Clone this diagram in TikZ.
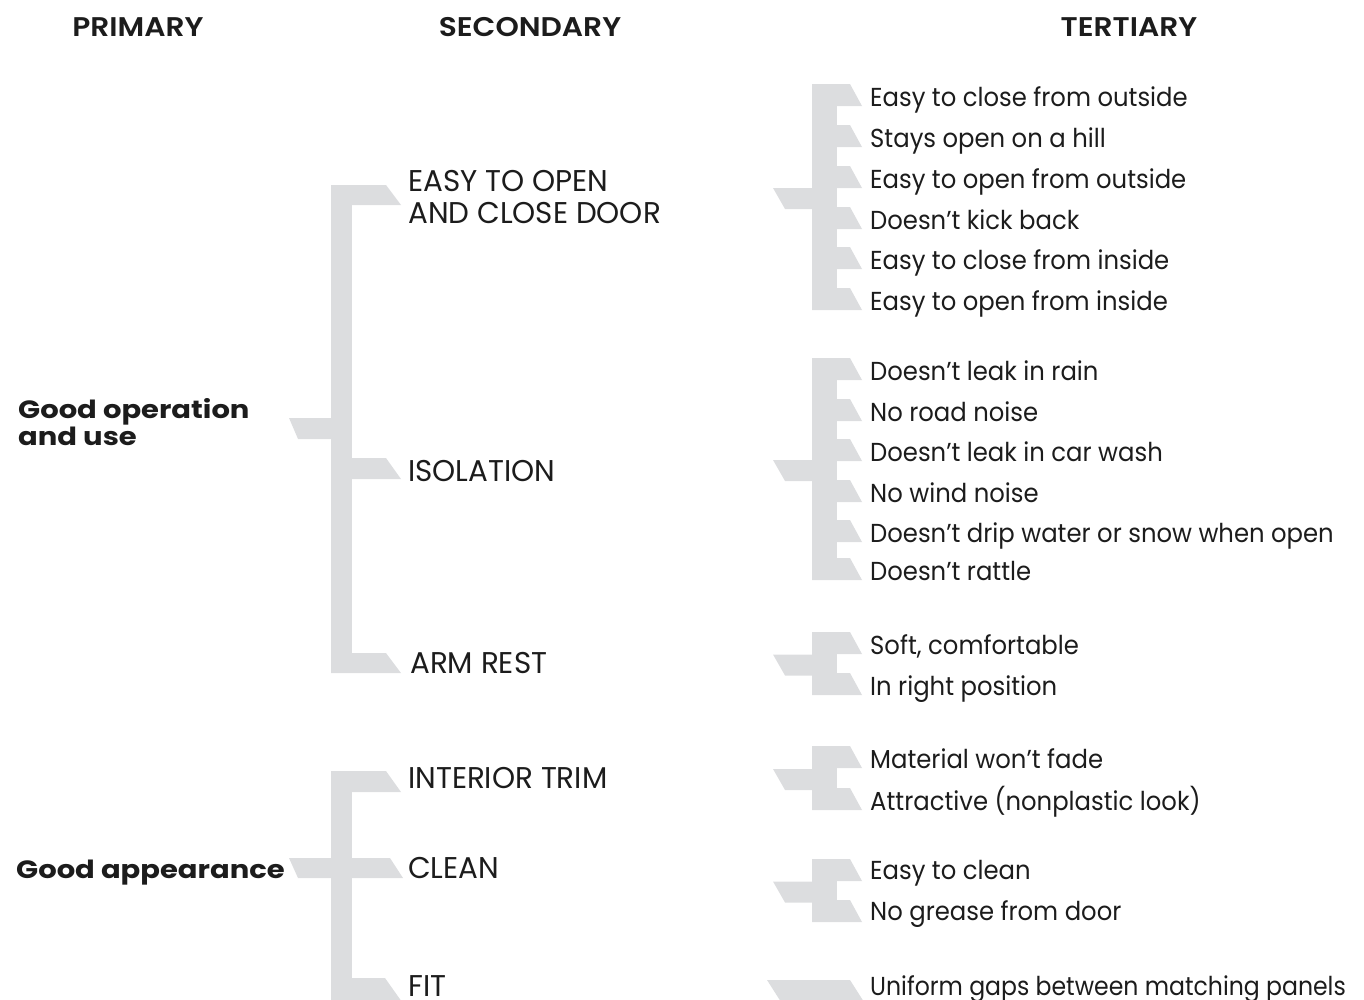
\documentclass[tikz,border=0pt]{standalone}
\usepackage{fontspec}
\setmainfont{Poppins}
\newfontfamily\bodyfont[FakeStretch=0.935]{Poppins}
\newfontfamily\capsfont[FakeStretch=0.98]{Poppins}
\newfontfamily\headfont[FakeStretch=1.1]{Poppins SemiBold}
\newfontfamily\boldfont[FakeStretch=1.16]{Poppins Bold}
\definecolor{bargray}{RGB}{220,221,223}
\definecolor{ink}{RGB}{28,28,28}
\tikzset{
  bar/.style={fill=bargray, draw=none},
  head/.style={inner sep=0pt, anchor=base, text=ink, font=\headfont\fontsize{27}{30}\selectfont},
  prim/.style={inner sep=0pt, anchor=base west, text=ink, align=left, font=\boldfont\fontsize{25}{27}\selectfont},
  sec/.style={inner sep=0pt, anchor=base west, text=ink, align=left, font=\capsfont\fontsize{30}{32}\selectfont},
  tert/.style={inner sep=0pt, anchor=base west, text=ink, font=\bodyfont\fontsize{26}{30}\selectfont},
}
% tertiary bracket: #1 list of row centres, #2 first centre, #3 last centre
\newcommand\tbracket[3]{%
  \fill[bar] (812,{#2-12}) rectangle (837,{#3+10});
  \foreach \c in {#1}{\fill[bar] (812,{\c-12}) -- (850,{\c-12}) -- (862,{\c+10}) -- (812,{\c+10}) -- cycle;}
  \fill[bar] (773,{(#2+#3)/2-10}) -- (812,{(#2+#3)/2-10}) -- (812,{(#2+#3)/2+11}) -- (785,{(#2+#3)/2+11}) -- cycle;
}
% secondary tab on a primary bracket, from y #1 to y #2
\newcommand\stab[2]{\fill[bar] (331,#1) -- (386,#1) -- (401,#2) -- (331,#2) -- cycle;}
\begin{document}
\begin{tikzpicture}[x=1pt,y=-1pt]
\useasboundingbox (0,0) rectangle (1364,999);

% column headings
\node[head] (hp) at (138,36) {PRIMARY};
\node[head] (hs) at (530,36) {SECONDARY};
\node[head] (ht) at (1129,36) {TERTIARY};

% primary bracket: good operation and use
\fill[bar] (331,185) rectangle (352,673);
\stab{185}{205}
\stab{458}{479}
\stab{653}{673}
\fill[bar] (289,418) -- (331,418) -- (331,439) -- (298,439) -- cycle;

% primary bracket: good appearance
\fill[bar] (331,771) rectangle (352,1005);
\stab{771}{792}
\fill[bar] (289,858) -- (390,858) -- (403,878) -- (298,878) -- cycle;
\fill[bar] (331,978) -- (385,978) -- (402,1002) -- (331,1002) -- cycle;

% tertiary brackets
\tbracket{96,137,178,219,259,300}{96}{300}
\tbracket{370,411,451,492,532,570}{370}{570}
\tbracket{644,685}{644}{685}
\tbracket{758,800}{758}{800}
\tbracket{871,912}{871}{912}
\fill[bar] (767,980) -- (850,980) -- (864,1002) -- (781,1002) -- cycle;

% primary items (base anchor sits on the last line)
\node[prim] (p1) at (18,445) {Good operation\\and use};
\node[prim] (p2) at (16,878) {Good appearance};

% secondary items
\node[sec] (s1) at (408,223) {EASY TO OPEN\\AND CLOSE DOOR};
\node[sec] (s2) at (408,481) {ISOLATION};
\node[sec] (s3) at (410,673) {ARM REST};
\node[sec] (s4) at (408,788) {INTERIOR TRIM};
\node[sec] (s5) at (408,878) {CLEAN};
\node[sec] (s6) at (408,996) {FIT};

% tertiary items
\node[tert] (t1) at (870,106) {Easy to close from outside};
\node[tert] (t2) at (870,147) {Stays open on a hill};
\node[tert] (t3) at (870,188) {Easy to open from outside};
\node[tert] (t4) at (870,229) {Doesn’t kick back};
\node[tert] (t5) at (870,269) {Easy to close from inside};
\node[tert] (t6) at (870,310) {Easy to open from inside};
\node[tert] (t7) at (870,380) {Doesn’t leak in rain};
\node[tert] (t8) at (870,421) {No road noise};
\node[tert] (t9) at (870,461) {Doesn’t leak in car wash};
\node[tert] (t10) at (870,502) {No wind noise};
\node[tert] (t11) at (870,542) {Doesn’t drip water or snow when open};
\node[tert] (t12) at (870,580) {Doesn’t rattle};
\node[tert] (t13) at (870,654) {Soft, comfortable};
\node[tert] (t14) at (870,695) {In right position};
\node[tert] (t15) at (870,768) {Material won’t fade};
\node[tert] (t16) at (870,810) {Attractive (nonplastic look)};
\node[tert] (t17) at (870,879) {Easy to clean};
\node[tert] (t18) at (870,920) {No grease from door};
\node[tert] (t19) at (870,995) {\scalebox{0.97}[1]{Uniform gaps between matching panels}};
\end{tikzpicture}
\end{document}
